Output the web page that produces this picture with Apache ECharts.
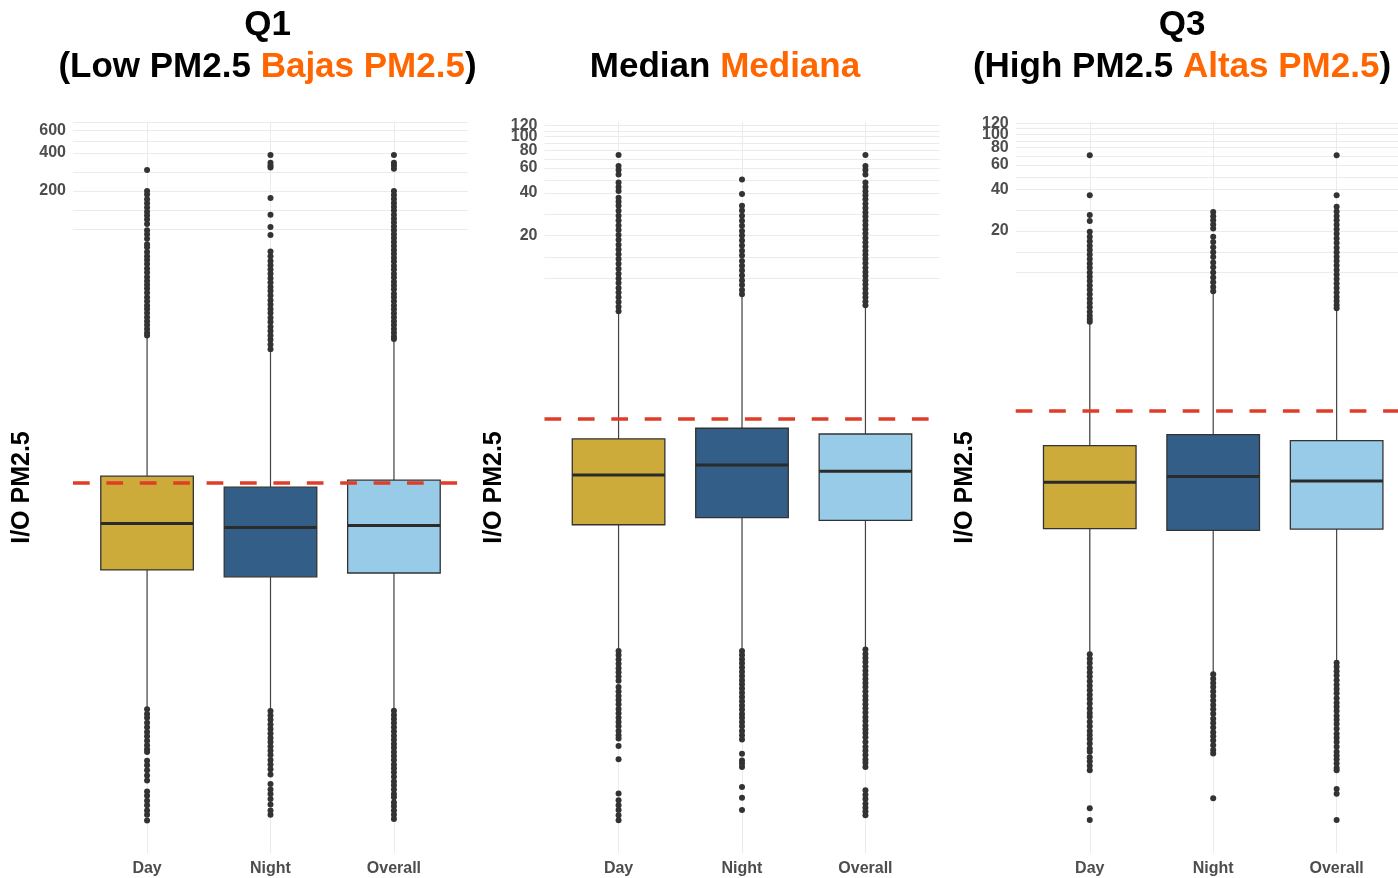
<!DOCTYPE html>
<html><head><meta charset="utf-8">
<script src="https://cdn.jsdelivr.net/npm/echarts@6/dist/echarts.min.js"></script>
<style>html,body{margin:0;padding:0;background:#fff}#c{width:1398px;height:878px}</style>
</head><body><div id="c"></div>
<script>
// ---------- data ----------
const categories = ['Day', 'Night', 'Overall'];

// [lower whisker, Q1, median, Q3, upper whisker]
const q1Stats  = [[0.0170, 0.205, 0.477, 1.125, 14.1], [0.0164, 0.181, 0.443, 0.922, 10.7], [0.0164, 0.194, 0.460, 1.046, 13.3]];
const midStats = [[0.0236, 0.179, 0.402, 0.725, 5.68], [0.0236, 0.201, 0.475, 0.863, 7.51], [0.0244, 0.192, 0.429, 0.786, 6.29]];
const q3Stats  = [[0.0176, 0.140, 0.303, 0.558, 4.33], [0.0128, 0.136, 0.333, 0.670, 7.14], [0.0154, 0.139, 0.310, 0.606, 5.42]];

const q1DayOut = [293, 200, 188, 172, 160, 148, 137, 128, 119, 110, 98, 91, 84, 76, 72, 66, 61, 57, 53, 49, 45.5, 42, 39, 36.5, 34, 31.5, 29, 27, 25, 23.4, 21.8, 20.2, 18.8, 17.5, 16.3, 15.2, 14.5,
  0.0163, 0.0150, 0.0140, 0.0128, 0.0118, 0.0108, 0.0100, 0.0092, 0.0085, 0.0079, 0.0075, 0.0064, 0.0059, 0.0054, 0.0049, 0.00447, 0.00366, 0.0034, 0.0031, 0.00285, 0.0026, 0.0024, 0.00217];
const q1NightOut = [385, 334, 318, 306, 176, 130, 104, 90, 66.5, 61, 56, 52, 48, 44.5, 41, 38, 35, 32.5, 30, 27.5, 25.5, 23.5, 21.8, 20, 18.5, 17, 15.7, 14.5, 13.4, 12.3, 11.3,
  0.0158, 0.0146, 0.0135, 0.0124, 0.0114, 0.0105, 0.0097, 0.0090, 0.0083, 0.0077, 0.0071, 0.0065, 0.0060, 0.0055, 0.0050, 0.0042, 0.0038, 0.0035, 0.0032, 0.0029, 0.0026, 0.0024];
const q1OverallOut = [385, 334, 318, 300, 200, 186, 173, 161, 150, 140, 130, 121, 113, 105, 98, 91, 85, 79, 73.5, 68.5, 64, 59.5, 55.5, 51.5, 48, 44.5, 41.5, 38.5, 36, 33.5, 31, 29, 27, 25, 23.3, 21.7, 20.2, 18.8, 17.5, 16.3, 15.2, 14.2, 13.6,
  0.0159, 0.0147, 0.0137, 0.0127, 0.0118, 0.0109, 0.0101, 0.0094, 0.0087, 0.0081, 0.0075, 0.0070, 0.0065, 0.0060, 0.0056, 0.0052, 0.0048, 0.0044, 0.0041, 0.0038, 0.0035, 0.0033, 0.0030, 0.0028, 0.0026, 0.0024, 0.00223];

const midDayOut = [74.1, 62, 58, 54, 47.3, 44, 41.3, 37, 34.6, 32.4, 29.9, 27.5, 25.5, 23.5, 21.8, 20.1, 18.6, 17.2, 15.9, 14.7, 13.6, 12.6, 11.6, 10.7, 9.9, 9.2, 8.5, 7.9, 7.3, 6.75, 6.25, 5.8,
  0.0229, 0.0214, 0.0199, 0.0186, 0.0173, 0.0162, 0.0151, 0.0141, 0.0127, 0.0118, 0.0110, 0.0103, 0.0096, 0.0089, 0.0083, 0.0077, 0.0072, 0.0067, 0.0062, 0.0058, 0.0055, 0.00486, 0.00391, 0.00224, 0.00201, 0.00185, 0.00171, 0.00157, 0.00145];
const midNightOut = [49.7, 39.2, 32.4, 30, 27.6, 25.4, 23.4, 21.5, 20, 18.4, 17, 15.6, 14.4, 13.2, 12.2, 11.3, 10.4, 9.6, 8.9, 8.2, 7.65,
  0.0229, 0.0214, 0.0200, 0.0187, 0.0175, 0.0163, 0.0152, 0.0142, 0.0133, 0.0124, 0.0116, 0.0108, 0.0101, 0.0094, 0.0088, 0.0082, 0.0077, 0.0072, 0.0067, 0.0062, 0.0058, 0.0054, 0.00428, 0.00384, 0.00365, 0.00345, 0.00249, 0.00209, 0.00171];
const midOverallOut = [74.1, 62, 58, 54, 47.3, 44, 41, 38.5, 36, 33.5, 31.3, 29.2, 27.2, 25.4, 23.7, 22.1, 20.6, 19.2, 17.9, 16.7, 15.6, 14.6, 13.6, 12.7, 11.8, 11, 10.3, 9.6, 9, 8.4, 7.8, 7.3, 6.8, 6.4,
  0.0234, 0.0218, 0.0204, 0.0191, 0.0178, 0.0166, 0.0155, 0.0145, 0.0136, 0.0127, 0.0118, 0.0110, 0.0103, 0.0096, 0.0090, 0.0084, 0.0078, 0.0073, 0.0068, 0.0064, 0.0060, 0.0056, 0.0052, 0.0048, 0.0045, 0.0042, 0.0039, 0.0037, 0.00345, 0.00236, 0.0022, 0.00205, 0.0019, 0.00178, 0.00167, 0.00157];

const q3DayOut = [70.4, 36.2, 26, 23.5, 19.7, 18.1, 16.8, 15.6, 14.5, 13.5, 12.5, 11.6, 10.8, 10, 9.3, 8.65, 8.05, 7.5, 6.95, 6.45, 6, 5.6, 5.2, 4.85, 4.6, 4.4,
  0.0173, 0.0160, 0.0149, 0.0138, 0.0128, 0.0119, 0.0110, 0.0102, 0.0095, 0.0088, 0.0082, 0.0076, 0.0070, 0.0065, 0.0061, 0.0056, 0.0052, 0.0048, 0.0045, 0.0042, 0.0039, 0.0036, 0.0034, 0.0031, 0.0029, 0.0027, 0.0025, 0.00133, 0.00109];
const q3NightOut = [27.4, 25.5, 23.8, 22.2, 20.8, 18.1, 16.6, 15.2, 14, 12.9, 11.8, 10.9, 10, 9.2, 8.5, 7.85, 7.3,
  0.0124, 0.0115, 0.0107, 0.0100, 0.0093, 0.0086, 0.0080, 0.0074, 0.0069, 0.0064, 0.0059, 0.0055, 0.0051, 0.0047, 0.0044, 0.0041, 0.0038, 0.0035, 0.0033, 0.00157];
const q3OverallOut = [70.4, 36.2, 29.8, 27.6, 25.6, 23.8, 22.1, 20.5, 19, 17.6, 16.3, 15.1, 14, 13, 12.1, 11.2, 10.4, 9.65, 8.95, 8.3, 7.7, 7.15, 6.65, 6.2, 5.8, 5.5,
  0.0150, 0.0140, 0.0130, 0.0121, 0.0112, 0.0104, 0.0097, 0.0090, 0.0083, 0.0077, 0.0072, 0.0067, 0.0062, 0.0058, 0.0054, 0.0050, 0.0046, 0.0043, 0.0040, 0.0037, 0.0034, 0.0032, 0.0030, 0.0028, 0.0026, 0.0025, 0.00183, 0.00169, 0.00109];

// axis ranges, grid values and tick labels (log10 scale)
const q1Range = [0.0012, 700];
const midRange = [0.00085, 127];
const q3Range = [0.00063, 122.5];
const q1Grid = [100, 141, 200, 283, 400, 490, 600, 693];
const q1Ticks = [200, 400, 600];
const midGrid = [10, 14.1, 20, 28.3, 40, 49, 60, 69.3, 80, 89.4, 100, 110, 120];
const midTicks = [100, 20, 40, 60, 120, 80];
const q3Grid = [10, 14.1, 20, 28.3, 40, 49, 60, 69.3, 80, 89.4, 100, 110, 120];
const q3Ticks = [100, 20, 40, 60, 120, 80];
const refLine = 1;

// ---------- styles ----------
const FONT = '"Liberation Sans", Arial, Helvetica, sans-serif';
const boxColors = ['#CCAB3B', '#335E88', '#97CBE8'];
const gridLefts = [73, 544.5, 1015.7];
const titleTexts = [
  'Q1\n(Low PM2.5 {o|Bajas PM2.5})',
  'Median {o|Mediana}',
  'Q3\n(High PM2.5 {o|Altas PM2.5})'
];
const titlePos = [[267.5, 4], [725, 46], [1182, 4]];

const panels = [
  {stats: q1Stats, out: [q1DayOut, q1NightOut, q1OverallOut], grid: q1Grid, ticks: q1Ticks, range: q1Range},
  {stats: midStats, out: [midDayOut, midNightOut, midOverallOut], grid: midGrid, ticks: midTicks, range: midRange},
  {stats: q3Stats, out: [q3DayOut, q3NightOut, q3OverallOut], grid: q3Grid, ticks: q3Ticks, range: q3Range}
];

function renderBox(params, api) {
  const x = api.value(0);
  const lo = api.value(1), q1 = api.value(2), md = api.value(3), q3 = api.value(4), hi = api.value(5);
  const pl = api.coord([x - 0.375, md]);
  const pr = api.coord([x + 0.375, md]);
  const cx = api.coord([x, md])[0];
  const yLo = api.coord([x, lo])[1], yQ1 = api.coord([x, q1])[1];
  const yQ3 = api.coord([x, q3])[1], yHi = api.coord([x, hi])[1];
  return {
    type: 'group',
    children: [
      {type: 'line', shape: {x1: cx, y1: yHi, x2: cx, y2: yQ3}, style: {stroke: '#444', lineWidth: 1.2}},
      {type: 'line', shape: {x1: cx, y1: yQ1, x2: cx, y2: yLo}, style: {stroke: '#444', lineWidth: 1.2}},
      {type: 'rect', shape: {x: pl[0], y: yQ3, width: pr[0] - pl[0], height: yQ1 - yQ3},
       style: {fill: boxColors[params.dataIndex], stroke: '#333', lineWidth: 1.3}},
      {type: 'line', shape: {x1: pl[0], y1: pl[1], x2: pr[0], y2: pl[1]}, style: {stroke: '#2b2b2b', lineWidth: 3}}
    ]
  };
}

const option = {
  animation: false,
  backgroundColor: '#fff',
  title: titleTexts.map((t, i) => ({
    text: t, left: titlePos[i][0], top: titlePos[i][1], textAlign: 'center', padding: 0,
    textStyle: {fontFamily: FONT, fontSize: 35, fontWeight: 'bold', color: '#000', lineHeight: 42,
      rich: {o: {fontFamily: FONT, fontSize: 35, fontWeight: 'bold', color: '#FF6600', lineHeight: 42}}}
  })),
  grid: panels.map((p, i) => ({left: gridLefts[i], top: 122, width: 395, height: 731, outerBoundsMode: 'none', containLabel: false})),
  xAxis: panels.map((p, i) => ({
    gridIndex: i, type: 'value', min: 0.4, max: 3.6,
    axisLine: {show: false},
    axisTick: {show: false, customValues: [1, 2, 3]},
    axisLabel: {customValues: [1, 2, 3], formatter: v => categories[Math.round(v) - 1],
      fontFamily: FONT, fontSize: 16, fontWeight: 'bold', color: '#4d4d4d', margin: 8, hideOverlap: false},
    splitLine: {show: true, lineStyle: {color: '#ebebeb', width: 1}}
  })),
  yAxis: panels.map((p, i) => ({
    gridIndex: i, type: 'log', logBase: 10, min: p.range[0], max: p.range[1],
    axisLine: {show: false},
    axisTick: {show: false, customValues: p.grid},
    axisLabel: {customValues: p.ticks, fontFamily: FONT, fontSize: 16, fontWeight: 'bold', color: '#4d4d4d', margin: 7,
      hideOverlap: false, showMaxLabel: true, showMinLabel: true},
    splitLine: {show: true, lineStyle: {color: '#ebebeb', width: 1}},
    minorTick: {show: false}, minorSplitLine: {show: false},
    name: 'I/O PM2.5', nameLocation: 'middle', nameRotate: 90, nameGap: 38,
    nameTextStyle: {fontFamily: FONT, fontSize: 25, fontWeight: 'bold', color: '#000'}
  })),
  series: panels.flatMap((p, i) => [
    {
      type: 'custom', xAxisIndex: i, yAxisIndex: i, silent: true,
      data: p.stats.map((s, j) => [j + 1].concat(s)),
      encode: {x: 0, y: [1, 2, 3, 4, 5]},
      renderItem: renderBox, z: 2
    },
    {
      type: 'scatter', xAxisIndex: i, yAxisIndex: i, silent: true, z: 3,
      symbol: 'circle', symbolSize: 6,
      itemStyle: {color: '#333333', opacity: 1},
      data: p.out.flatMap((arr, j) => arr.map(v => [j + 1, v])),
      markLine: {
        silent: true, symbol: ['none', 'none'], label: {show: false},
        lineStyle: {color: '#E03C28', width: 3.5, type: [16.7, 16.7], dashOffset: 0, opacity: 1},
        emphasis: {disabled: true},
        data: [{yAxis: refLine}]
      }
    }
  ])
};

const chart = echarts.init(document.getElementById('c'), null, {renderer: 'canvas'});
chart.setOption(option);
</script>
</body></html>
